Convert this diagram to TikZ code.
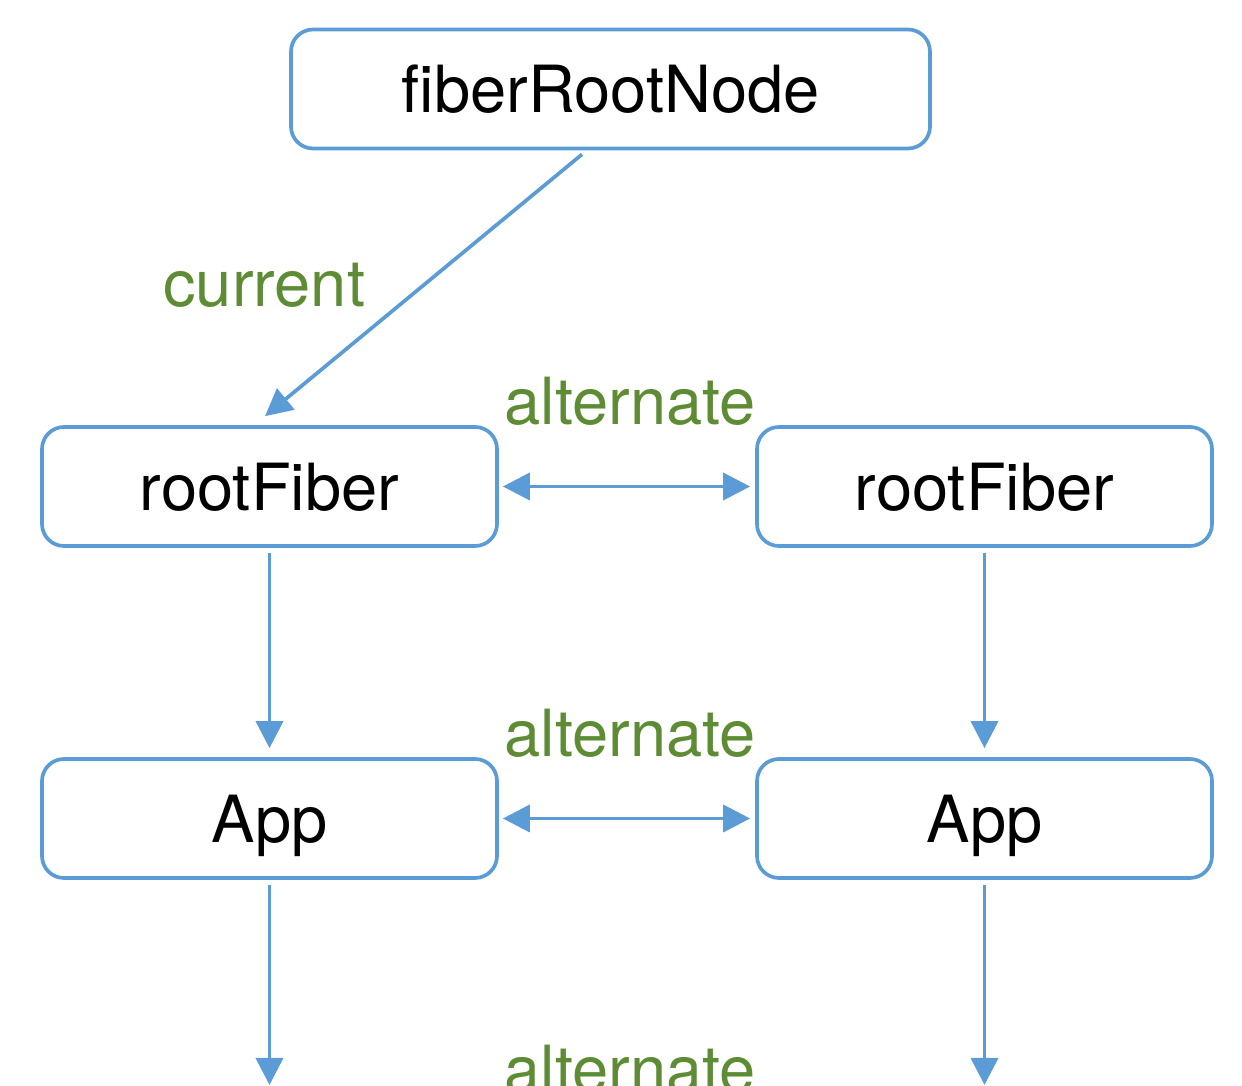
\documentclass[tikz,border=0pt]{standalone}
\usepackage{fontspec}
\setmainfont{TeX Gyre Heros}
\usepackage{tikz}
\usetikzlibrary{arrows.meta, positioning}

\definecolor{fiberblue}{RGB}{91,155,214}
\definecolor{altgreen}{RGB}{94,140,52}

\begin{document}
\begin{tikzpicture}[
  >={Triangle[length=5.4mm, width=5.4mm]},
  fiber/.style={draw=fiberblue, line width=2.1pt, rounded corners=4.4mm,
                minimum width=9.1cm, minimum height=2.38cm, text depth=0pt,
                font=\fontsize{37}{44}\selectfont},
  link/.style={draw=fiberblue, line width=2.1pt},
  lab/.style={text=altgreen, inner sep=0pt, font=\fontsize{37}{44}\selectfont},
]

% canvas (the bottom row is cut off)
\useasboundingbox (0,0) rectangle (24.84,-21.72);
\clip (0,0) rectangle (24.84,-21.72);

% Fiber nodes
\node[fiber, minimum width=12.78cm] (root) at (12.21,-1.78) {fiberRootNode};
\node[fiber] (rfL) at (5.39,-9.73) {rootFiber};
\node[fiber] (rfR) at (19.69,-9.73) {rootFiber};
\node[fiber] (appL) at (5.39,-16.37) {App};
\node[fiber] (appR) at (19.69,-16.37) {App};

% free ends of the lower links
\coordinate (endL) at (5.39,-21.70);
\coordinate (endR) at (19.69,-21.70);

% current pointer
\draw[link, ->] ([xshift=-5.7mm, yshift=-0.8mm]root.south)
  -- node[lab, midway, left=1.13cm] {current}
  ([xshift=-0.9mm, yshift=1.8mm]rfL.north);

% alternate links
\draw[link, <->, shorten <=0.08cm, shorten >=0.1cm] (rfL) --
  node[lab, midway, above=1.18cm, xshift=0.06cm] {alternate} (rfR);
\draw[link, <->, shorten <=0.08cm, shorten >=0.1cm] (appL) --
  node[lab, midway, above=1.18cm, xshift=0.06cm] {alternate} (appR);
\node[lab, anchor=base] (alt3) at (12.6,-21.86) {alternate};

% child links
\draw[link, ->, shorten <=0.1cm, shorten >=0.18cm] (rfL) -- (appL);
\draw[link, ->, shorten <=0.1cm, shorten >=0.18cm] (rfR) -- (appR);
\draw[link, ->, shorten <=0.1cm] (appL) -- (endL);
\draw[link, ->, shorten <=0.1cm] (appR) -- (endR);

\end{tikzpicture}
\end{document}
